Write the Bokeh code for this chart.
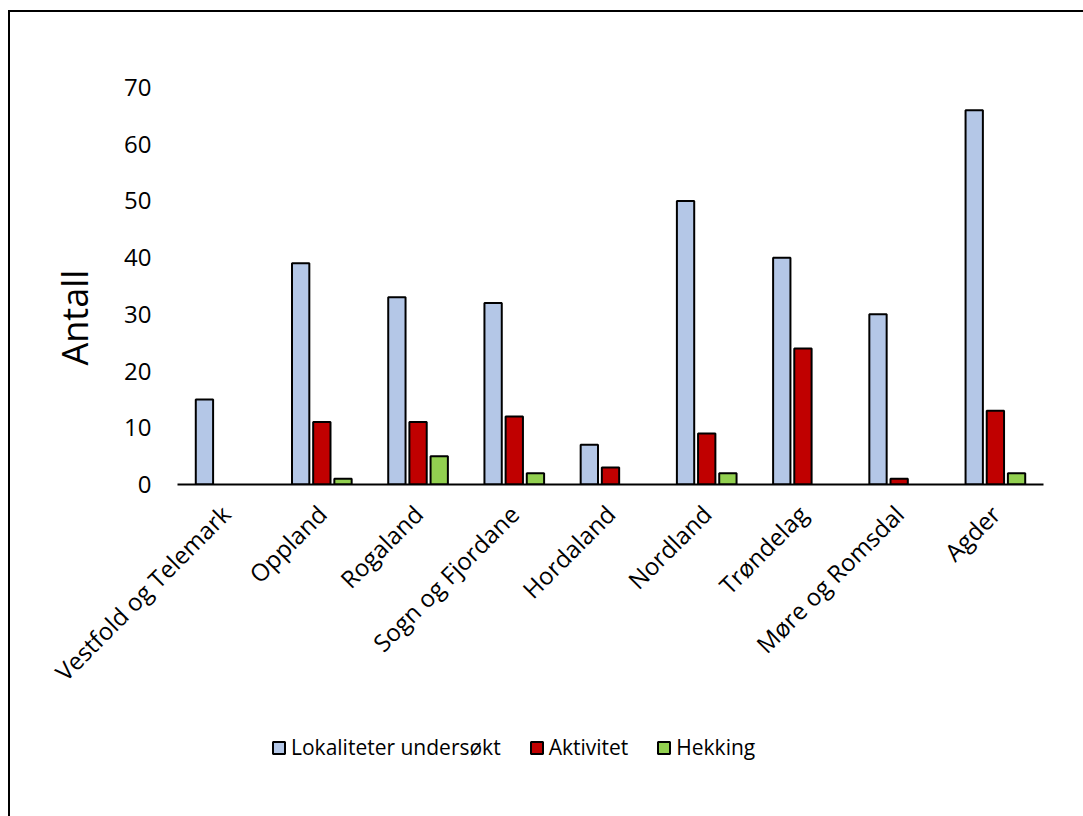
from math import pi
from bokeh.plotting import figure
from bokeh.layouts import column
from bokeh.models import ColumnDataSource, FactorRange, Range1d, Legend, LegendItem, Title, FixedTicker
from bokeh.transform import dodge
from bokeh.embed import file_html
from bokeh.resources import INLINE

regions = ["Vestfold og Telemark", "Oppland", "Rogaland", "Sogn og Fjordane", "Hordaland",
           "Nordland", "Trøndelag", "Møre og Romsdal", "Agder"]
lokaliteter = [15, 39, 33, 32, 7, 50, 40, 30, 66]
aktivitet = [0, 11, 11, 12, 3, 9, 24, 1, 13]
hekking = [0, 1, 5, 2, 0, 2, 0, 0, 2]
y_ticks = [0, 10, 20, 30, 40, 50, 60, 70]
series_names = ["Lokaliteter undersøkt", "Aktivitet", "Hekking"]
series_values = [lokaliteter, aktivitet, hekking]
colors = ["#B4C7E7", "#C00000", "#92D050"]
offsets = [-0.22, 0.0, 0.22]

FONT = "Open Sans"
W = 1083
H_MAIN = 716
H_LEG = 816 - H_MAIN

p = figure(width=W, height=H_MAIN, output_backend="svg", toolbar_location=None,
           x_range=FactorRange(factors=regions, range_padding=0),
           y_range=Range1d(0, 70),
           min_border_left=177, min_border_right=40, min_border_top=87,
           min_border_bottom=H_MAIN - 484)

p.styles = {
    "background-image": "linear-gradient(#000,#000), linear-gradient(#000,#000)",
    "background-size": "2px 100%, 100% 2px",
    "background-position": "8px 10px, 8px 10px",
    "background-repeat": "no-repeat",
}
p.border_fill_alpha = 0
p.background_fill_alpha = 0
p.outline_line_color = None
p.xgrid.grid_line_color = None
p.ygrid.grid_line_color = None

for name, vals, col, off in zip(series_names, series_values, colors, offsets):
    xs = [r for r, v in zip(regions, vals) if v > 0]
    ys = [v for v in vals if v > 0]
    src = ColumnDataSource(dict(x=xs, top=ys))
    p.vbar(x=dodge("x", off, range=p.x_range), top="top", bottom=0, width=0.18,
           source=src, fill_color=col, line_color="black", line_width=2)

# y axis
p.yaxis.ticker = FixedTicker(ticks=y_ticks)
p.yaxis.axis_line_color = None
p.yaxis.major_tick_line_color = None
p.yaxis.minor_tick_line_color = None
p.yaxis.major_tick_out = 0
p.yaxis.major_tick_in = 0
p.yaxis.major_label_standoff = 26
p.yaxis.major_label_text_font = FONT
p.yaxis.major_label_text_font_size = "24px"
p.yaxis.major_label_text_color = "black"

# x axis
p.xaxis.axis_line_color = "black"
p.xaxis.axis_line_width = 2
p.xaxis.major_tick_line_color = None
p.xaxis.minor_tick_line_color = None
p.xaxis.major_tick_out = 0
p.xaxis.major_tick_in = 0
p.xaxis.major_label_orientation = pi / 4
p.xaxis.major_label_standoff = 25
p.xaxis.major_label_text_font = FONT
p.xaxis.major_label_text_font_size = "24px"
p.xaxis.major_label_text_color = "black"

ylab = Title(text="Antall", align="left", offset=119, text_font=FONT, text_font_size="36px",
             text_font_style="normal", text_color="black", standoff=46)
p.add_layout(ylab, "left")

# legend panel (frame aligned with the main plot's frame by the column layout)
pl = figure(width=W, height=H_LEG, output_backend="svg", toolbar_location=None,
            x_range=Range1d(0, 1), y_range=Range1d(0, 1),
            x_axis_type=None, y_axis_type=None,
            min_border_left=0, min_border_right=0, min_border_top=0, min_border_bottom=0)
pl.styles = {
    "background-image": "linear-gradient(#000,#000)",
    "background-size": "2px 100%",
    "background-position": "8px 0px",
    "background-repeat": "no-repeat",
}
pl.border_fill_alpha = 0
pl.background_fill_alpha = 0
pl.outline_line_color = None
pl.xgrid.grid_line_color = None
pl.ygrid.grid_line_color = None

nan = float("nan")
items = []
for name, col in zip(series_names, colors):
    src = ColumnDataSource(dict(x=[nan], top=[nan]))
    r = pl.vbar(x="x", top="top", bottom=0, width=0.1, source=src,
                fill_color=col, line_color="black", line_width=2)
    items.append(LegendItem(label=name, renderers=[r]))

legend = Legend(items=items, orientation="horizontal", location=(94, 55),
                glyph_width=15, glyph_height=15, label_standoff=5, spacing=28,
                padding=0, margin=0, border_line_color=None, background_fill_alpha=0,
                label_text_font=FONT, label_text_font_size="21px", label_text_color="black")
pl.add_layout(legend, "center")

layout = column(p, pl, spacing=0)
open("out.html", "w").write(file_html(layout, INLINE))
